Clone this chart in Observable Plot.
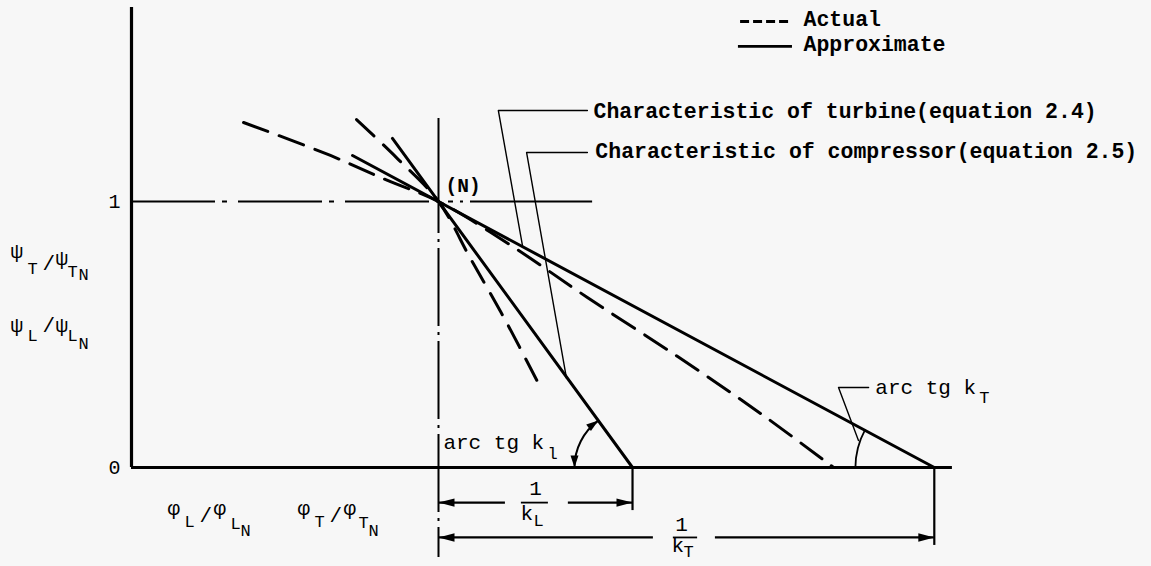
<!DOCTYPE html>
<html>
<head>
<meta charset="utf-8">
<script src="https://cdn.jsdelivr.net/npm/d3@7"></script>
<script src="https://cdn.jsdelivr.net/npm/@observablehq/plot@0.6"></script>
<style>
  html, body { margin: 0; padding: 0; background: #f7f7f7; }
  #chart svg { display: block; }
</style>
</head>
<body>
<div id="chart"></div>
<script>
// Normalised coordinates: x = φ/φN, y = ψ/ψN, nominal point N at (1, 1)
const nominalX = 1;
const nominalY = 1;

// φ-axis intercepts of the linearised characteristics (1 + 1/k)
const compressorIntercept = 1.632;   // 1/kL ≈ 0.632
const turbineIntercept = 2.615;      // 1/kT ≈ 1.615

// Approximate (straight) characteristics – end points
const compressorApproxX = [0.85, compressorIntercept];
const compressorApproxY = [1.237, 0];
const turbineApproxX = [0.72, turbineIntercept];
const turbineApproxY = [1.173, 0];

// Actual characteristics
const compressorActualX = [0.733, 0.863, 1, 1.104, 1.218, 1.329];
const compressorActualY = [1.308, 1.165, 1, 0.786, 0.553, 0.308];
const turbineActualX = [0.365, 0.648, 0.834, 1, 1.241, 1.485, 1.779, 2.049, 2.287];
const turbineActualY = [1.297, 1.173, 1.079, 1, 0.831, 0.639, 0.417, 0.203, 0];

const yTicks = [0, 1];

const legendLabels = ["Actual", "Approximate"];
const curveLabels = [
  "Characteristic of turbine(equation 2.4)",
  "Characteristic of compressor(equation 2.5)"
];

const zip = (xs, ys) => xs.map((x, i) => ({x, y: ys[i]}));

const FONT = "'Liberation Mono', 'DejaVu Sans Mono', monospace";
const INK = "#000";

// text built from pieces (sub/superscripts) placed with pixel offsets
function richText(anchor, parts, base = {}) {
  return parts.map(p => Plot.text([anchor], {
    x: "x", y: "y",
    text: () => p.t,
    dx: p.dx || 0, dy: p.dy || 0,
    fontSize: p.size || base.size || 21,
    fontWeight: p.weight || base.weight || "normal",
    textAnchor: p.anchor || "start",
    lineAnchor: "bottom",
    fontFamily: FONT,
    fill: INK
  }));
}

// filled arrow head, tip at the origin, pointing along +x before rotation
const headLong = {draw(ctx) { ctx.moveTo(0, 0); ctx.lineTo(-16, -4.2); ctx.lineTo(-16, 4.2); ctx.closePath(); }};
const headShort = {draw(ctx) { ctx.moveTo(0, 0); ctx.lineTo(-12, -4); ctx.lineTo(-12, 4); ctx.closePath(); }};

// dimension lines 1/kL and 1/kT
const dimL = -0.132, dimT = -0.263;
const dimSegments = [
  {x1: nominalX, x2: 1.218, y: dimL}, {x1: 1.423, x2: compressorIntercept, y: dimL},
  {x1: nominalX, x2: 1.700, y: dimT}, {x1: 1.902, x2: turbineIntercept, y: dimT}
];
const dimHeads = [
  {x: nominalX, y: dimL, r: 180}, {x: compressorIntercept, y: dimL, r: 0},
  {x: nominalX, y: dimT, r: 180}, {x: turbineIntercept, y: dimT, r: 0}
];
const extensionLines = [
  {x: compressorIntercept, y1: 0, y2: -0.162},
  {x: turbineIntercept, y1: 0, y2: -0.293}
];
const fractionBars = [
  {x1: 1.270, x2: 1.358, y: dimL},
  {x1: 1.765, x2: 1.844, y: dimT}
];

// angle arcs (arc tg k)
const arcs = [
  {x1: 1.443, y1: 0, x2: 1.5205, y2: 0.1763, bend: 27},
  {x1: 2.358, y1: 0, x2: 2.389, y2: 0.1406, bend: 14}
];
const arcHeads = [
  {x: 1.443, y: 0, r: 90},
  {x: 1.5205, y: 0.1763, r: -36}
];

// leader lines from labels to the curves
const leaders = [
  {id: "t", x: 1.485, y: 1.342}, {id: "t", x: 1.195, y: 1.342}, {id: "t", x: 1.274, y: 0.831},
  {id: "c", x: 1.485, y: 1.184}, {id: "c", x: 1.287, y: 1.184}, {id: "c", x: 1.417, y: 0.335},
  {id: "k", x: 2.401, y: 0.301}, {id: "k", x: 2.303, y: 0.301}, {id: "k", x: 2.368, y: 0.1015}
];

const chart = Plot.plot({
  width: 1151,
  height: 566,
  marginLeft: 131,
  marginRight: 0,
  marginTop: 0,
  marginBottom: 0,
  x: {domain: [0, 3.3225], axis: null},
  y: {domain: [-0.3722, 1.7556], axis: null},
  style: {background: "#f7f7f7", fontFamily: FONT, color: INK},
  marks: [
    // y ticks
    Plot.axisY({ticks: yTicks, tickFormat: d => String(d), tickSize: 0, tickPadding: 11, fontSize: 20, label: null, fontFamily: FONT}),

    // reference line ψ/ψN = 1
    Plot.ruleY([nominalY], {x1: 0, x2: nominalX, strokeWidth: 2.2, strokeDasharray: "84,7,5,11"}),
    Plot.ruleY([nominalY], {x1: nominalX, x2: 1.502, strokeWidth: 2.2, strokeDasharray: "0,10,5,7,3,7,400"}),
    // reference line φ/φN = 1
    Plot.ruleX([nominalX], {y1: 1.312, y2: nominalY, strokeWidth: 2}),
    Plot.ruleX([nominalX], {y1: nominalY, y2: -0.338, strokeWidth: 2, strokeDasharray: "78,6,3,6", strokeDashoffset: 46}),

    // axes
    Plot.ruleX([0], {y1: 0, y2: 1.729, strokeWidth: 3.2}),
    Plot.ruleY([0], {x1: 0, x2: 2.674, strokeWidth: 3}),

    // characteristics
    Plot.line(zip(turbineActualX, turbineActualY), {x: "x", y: "y", curve: "catmull-rom", strokeWidth: 3, strokeDasharray: "26,12"}),
    Plot.line(zip(compressorActualX, compressorActualY), {x: "x", y: "y", curve: "catmull-rom", strokeWidth: 3, strokeDasharray: "24,13"}),
    Plot.line(zip(turbineApproxX, turbineApproxY), {x: "x", y: "y", strokeWidth: 3}),
    Plot.line(zip(compressorApproxX, compressorApproxY), {x: "x", y: "y", strokeWidth: 3}),

    // leaders
    Plot.line(leaders, {x: "x", y: "y", z: "id", strokeWidth: 1.4}),

    // dimension lines
    Plot.ruleY(dimSegments, {x1: "x1", x2: "x2", y: "y", strokeWidth: 2.2}),
    Plot.ruleX(extensionLines, {x: "x", y1: "y1", y2: "y2", strokeWidth: 2.2}),
    Plot.ruleY(fractionBars, {x1: "x1", x2: "x2", y: "y", strokeWidth: 1.8}),
    Plot.dot(dimHeads, {x: "x", y: "y", rotate: "r", symbol: headLong, fill: INK, stroke: "none", r: 5}),

    // angle arcs
    Plot.arrow(arcs.slice(0, 1), {x1: "x1", y1: "y1", x2: "x2", y2: "y2", bend: arcs[0].bend, headLength: 0, strokeWidth: 2}),
    Plot.arrow(arcs.slice(1), {x1: "x1", y1: "y1", x2: "x2", y2: "y2", bend: arcs[1].bend, headLength: 0, strokeWidth: 1.8}),
    Plot.dot(arcHeads, {x: "x", y: "y", rotate: "r", symbol: headShort, fill: INK, stroke: "none", r: 5}),

    // legend
    Plot.ruleY([1.677], {x1: 1.984, x2: 2.147, strokeWidth: 3, strokeDasharray: "9,4"}),
    Plot.ruleY([1.583], {x1: 1.977, x2: 2.153, strokeWidth: 2.6}),
    ...richText({x: 2.189, y: 1.658}, [{t: legendLabels[0]}], {weight: "bold", size: 21.5}),
    ...richText({x: 2.189, y: 1.565}, [{t: legendLabels[1]}], {weight: "bold", size: 21.5}),

    // curve labels
    ...richText({x: 1.505, y: 1.312}, [{t: curveLabels[0]}], {weight: "bold", size: 21.5}),
    ...richText({x: 1.511, y: 1.162}, [{t: curveLabels[1]}], {weight: "bold", size: 21.5}),
    ...richText({x: 1.023, y: 1.034}, [{t: "(N)"}], {weight: "bold", size: 19.5}),

    // axis quantities
    ...richText({x: -0.394, y: 0.789}, [
      {t: "ψ"}, {t: "T", dx: 17, dy: 16, size: 17}, {t: "/", dx: 32, dy: 12},
      {t: "ψ", dx: 45, dy: 7}, {t: "T", dx: 57, dy: 19, size: 17}, {t: "N", dx: 68, dy: 22, size: 17}
    ], {size: 21}),
    ...richText({x: -0.394, y: 0.511}, [
      {t: "ψ"}, {t: "L", dx: 17, dy: 9, size: 17}, {t: "/", dx: 32, dy: 0},
      {t: "ψ", dx: 45, dy: 0}, {t: "L", dx: 57, dy: 9, size: 17}, {t: "N", dx: 68, dy: 17, size: 17}
    ], {size: 21}),
    ...richText({x: 0.117, y: -0.177}, [
      {t: "φ"}, {t: "L", dx: 17, dy: 12, size: 17}, {t: "/", dx: 32, dy: 7},
      {t: "φ", dx: 46, dy: 0}, {t: "L", dx: 63, dy: 14, size: 17}, {t: "N", dx: 73, dy: 21, size: 17}
    ], {size: 21}),
    ...richText({x: 0.541, y: -0.177}, [
      {t: "φ"}, {t: "T", dx: 17, dy: 12, size: 17}, {t: "/", dx: 32, dy: 7},
      {t: "φ", dx: 46, dy: 0}, {t: "T", dx: 61, dy: 13, size: 17}, {t: "N", dx: 71, dy: 21, size: 17}
    ], {size: 21}),

    // fractions 1/kL and 1/kT
    ...richText({x: 1.316, y: -0.105}, [{t: "1", anchor: "middle"}], {size: 21}),
    ...richText({x: 1.267, y: -0.199}, [{t: "k"}, {t: "L", dx: 13, dy: 6, size: 17}], {size: 21}),
    ...richText({x: 1.792, y: -0.237}, [{t: "1", anchor: "middle"}], {size: 21}),
    ...richText({x: 1.759, y: -0.3195}, [{t: "k"}, {t: "T", dx: 12, dy: 5, size: 17}], {size: 21}),

    // angle labels
    ...richText({x: 1.016, y: 0.071}, [{t: "arc tg k"}, {t: "l", dx: 104, dy: 10, size: 17}], {size: 21}),
    ...richText({x: 2.423, y: 0.278}, [{t: "arc tg k"}, {t: "T", dx: 104, dy: 9, size: 17}], {size: 21})
  ]
});

document.getElementById("chart").append(chart);
</script>
</body>
</html>
